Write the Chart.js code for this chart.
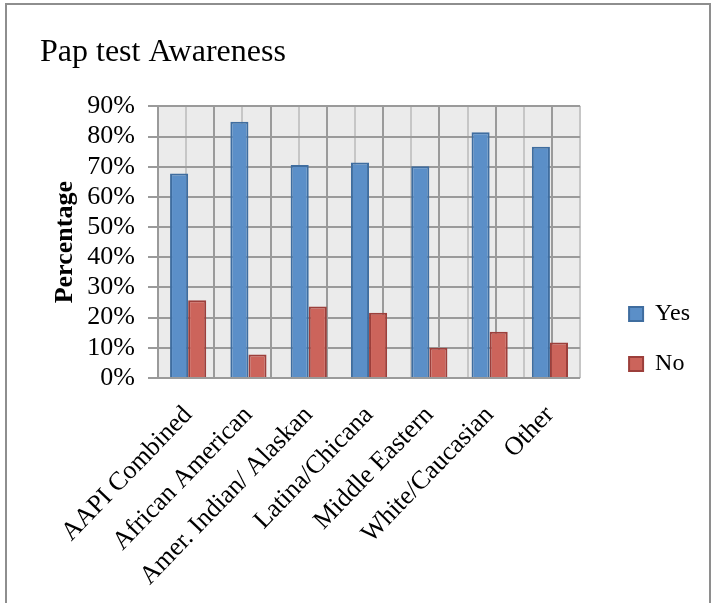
<!DOCTYPE html>
<html>
<head>
<meta charset="utf-8">
<title>Pap test Awareness</title>
<script src="https://cdn.jsdelivr.net/npm/chart.js@4/dist/chart.umd.min.js"></script>
<style>
    body { margin: 0; background: #fff; }
    #wrap { position: relative; width: 715px; height: 603px; overflow: hidden; }
    #frame { position: absolute; left: 5px; top: 3px; width: 706px; height: 640px; border: 2px solid #8e8e8e; box-sizing: border-box; }
    #chart { position: absolute; left: 0; top: 0; }
</style>
</head>
<body>
<div id="wrap">
    <div id="frame"></div>
    <canvas id="chart" width="715" height="603"></canvas>
</div>
<script>
// Chart data
const groups = ['AAPI Combined', 'African American', 'Amer. Indian/ Alaskan', 'Latina/Chicana',
    'Middle Eastern', 'White/Caucasian', 'Other'];
const yesValues = [67.8, 84.9, 70.6, 71.4, 70.2, 81.4, 76.6];
const noValues = [25.8, 7.8, 23.7, 21.6, 10.0, 15.3, 11.8];
const yTicks = [0, 10, 20, 30, 40, 50, 60, 70, 80, 90];

const serif = '"Liberation Serif", "Times New Roman", serif';
const gridDark = '#9a9a9a';
const gridLight = '#c6c6c6';

// Fill the plot area with light grey before anything is drawn
const plotBackground = {
    id: 'plotBackground',
    beforeDraw(chart) {
        const {ctx, chartArea} = chart;
        ctx.save();
        ctx.fillStyle = '#ebebeb';
        ctx.fillRect(chartArea.left, chartArea.top, chartArea.right - chartArea.left, chartArea.bottom - chartArea.top);
        ctx.restore();
    }
};

const ctx = document.getElementById('chart').getContext('2d');
window.papChart = new Chart(ctx, {
    type: 'bar',
    data: {
        labels: groups,
        datasets: [{
            label: 'Yes',
            data: yesValues,
            backgroundColor: '#5b8fc8',
            borderColor: '#3f6d9f',
            borderWidth: 2,
            borderSkipped: 'bottom'
        }, {
            label: 'No',
            data: noValues,
            backgroundColor: '#cc645b',
            borderColor: '#9c3f3b',
            borderWidth: 2,
            borderSkipped: 'bottom'
        }]
    },
    options: {
        responsive: false,
        animation: false,
        barPercentage: 1.0,
        categoryPercentage: 0.6,
        layout: {
            padding: { left: 40, right: 15, top: 0, bottom: 0 }
        },
        plugins: {
            title: {
                display: true,
                text: 'Pap test Awareness',
                align: 'start',
                color: '#000',
                font: { family: serif, size: 32, weight: 'normal' },
                padding: { top: 33, bottom: 35 }
            },
            legend: {
                position: 'right',
                align: 'center',
                // empty legend title, only there to push the two items down
                title: {
                    display: true,
                    text: ' ',
                    font: { size: 10 },
                    padding: { top: 63, bottom: 0 }
                },
                labels: {
                    color: '#000',
                    font: { family: serif, size: 24 },
                    boxWidth: 14,
                    boxHeight: 14,
                    padding: 26
                }
            },
            tooltip: { enabled: false }
        },
        scales: {
            x: {
                type: 'category',
                grid: { display: false },
                border: { display: false },
                ticks: {
                    color: '#000',
                    font: { family: serif, size: 26 },
                    minRotation: 46,
                    maxRotation: 46,
                    autoSkip: false,
                    padding: 14
                },
                afterFit: (scale) => { scale.height = 225; }
            },
            // only used for the vertical grid lines (category edges and centres)
            xGrid: {
                type: 'linear',
                position: 'top',
                min: 0,
                max: groups.length,
                grid: {
                    drawTicks: false,
                    lineWidth: 2,
                    color: (c) => (c.tick && c.tick.value % 1 === 0) ? gridDark : gridLight
                },
                border: { display: false },
                ticks: { display: false, stepSize: 0.5, autoSkip: false },
                afterFit: (scale) => { scale.height = 0; }
            },
            y: {
                min: 0,
                max: 90,
                afterBuildTicks: (scale) => { scale.ticks = yTicks.map(v => ({ value: v })); },
                grid: {
                    color: gridDark,
                    lineWidth: 2,
                    tickLength: 10
                },
                border: { display: false },
                ticks: {
                    color: '#000',
                    font: { family: serif, size: 26 },
                    padding: 13,
                    autoSkip: false,
                    callback: (v) => v + '%'
                },
                title: {
                    display: true,
                    text: 'Percentage',
                    color: '#000',
                    font: { family: serif, size: 26, weight: 'bold' },
                    padding: { top: 10, bottom: 0 }
                },
                afterFit: (scale) => { scale.width = 118; }
            },
            // empty right axis that leaves the gap before the legend
            yGap: {
                position: 'right',
                grid: { display: false },
                border: { display: false },
                ticks: { display: false },
                afterFit: (scale) => { scale.width = 23; }
            }
        }
    },
    plugins: [plotBackground]
});
</script>
</body>
</html>
